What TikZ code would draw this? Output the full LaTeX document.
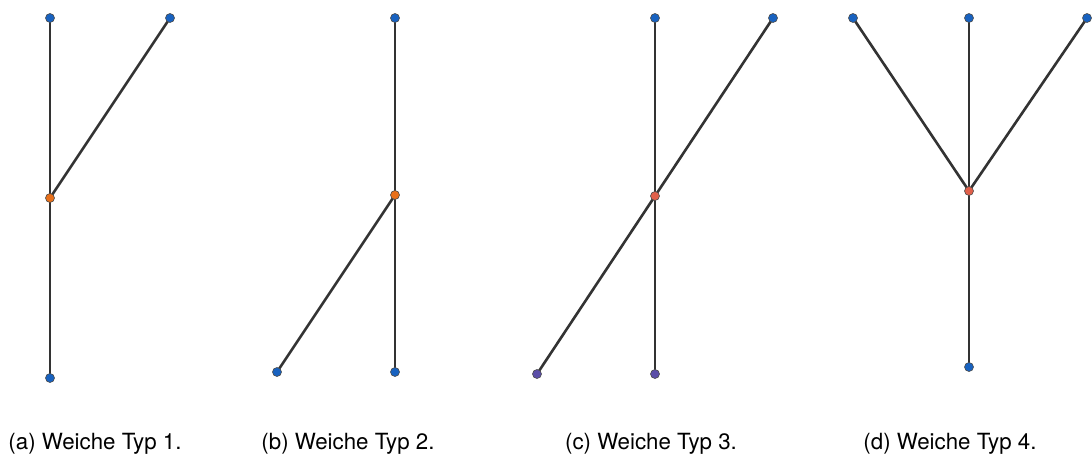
\documentclass[tikz,border=0pt]{standalone}
\usepackage{fontspec}
\setmainfont{TeX Gyre Heros}
\begin{document}
\begin{tikzpicture}[x=1pt,y=-1pt,
  dot/.style={circle,inner sep=0pt,minimum size=9pt,draw=black!70,line width=0.6pt},
  bdot/.style={dot,fill=blueN},
  odot/.style={dot,fill=orangeN},
  pdot/.style={dot,fill=purpleN},
  rdot/.style={dot,fill=redN},
  edge/.style={draw=lineC,line width=2.6pt},
  captxt/.style={font=\fontsize{22.3}{26}\selectfont,inner sep=0pt,anchor=base}]
\definecolor{blueN}{HTML}{1862C0}
\definecolor{orangeN}{HTML}{E8701A}
\definecolor{purpleN}{HTML}{5B4EA8}
\definecolor{redN}{HTML}{E0604A}
\definecolor{lineC}{HTML}{333333}
\useasboundingbox[fill=white] (0,0) rectangle (1092,455);
% (a)
\coordinate (a1) at (50,18);
\coordinate (a2) at (170,18);
\coordinate (am) at (50,198);
\coordinate (ab) at (50,378);
\draw[edge] (a1) -- (ab);
\draw[edge] (a2) -- (am);
\node[bdot] (na1) at (a1) {};
\node[bdot] (na2) at (a2) {};
\node[odot] (nam) at (am) {};
\node[bdot] (nab) at (ab) {};
% (b)
\coordinate (b1) at (395,18);
\coordinate (bm) at (395,195);
\coordinate (bl) at (277,372);
\coordinate (bb) at (395,372);
\draw[edge] (b1) -- (bb);
\draw[edge] (bl) -- (bm);
\node[bdot] (nb1) at (b1) {};
\node[odot] (nbm) at (bm) {};
\node[bdot] (nbl) at (bl) {};
\node[bdot] (nbb) at (bb) {};
% (c)
\coordinate (c1) at (655,18);
\coordinate (c2) at (773,18);
\coordinate (cm) at (655,196);
\coordinate (cl) at (537,374);
\coordinate (cb) at (655,374);
\draw[edge] (c1) -- (cb);
\draw[edge] (cl) -- (c2);
\node[bdot] (nc1) at (c1) {};
\node[bdot] (nc2) at (c2) {};
\node[rdot] (ncm) at (cm) {};
\node[pdot] (ncl) at (cl) {};
\node[pdot] (ncb) at (cb) {};
% (d)
\coordinate (d1) at (853,18);
\coordinate (d2) at (969,18);
\coordinate (d3) at (1087,18);
\coordinate (dm) at (969,191);
\coordinate (db) at (969,367);
\draw[edge] (d2) -- (db);
\draw[edge] (d1) -- (dm);
\draw[edge] (d3) -- (dm);
\node[bdot] (nd1) at (d1) {};
\node[bdot] (nd2) at (d2) {};
\node[bdot] (nd3) at (d3) {};
\node[rdot] (ndm) at (dm) {};
\node[bdot] (ndb) at (db) {};
% captions
\node[captxt] (capa) at (95,449) {(a) Weiche Typ 1.};
\node[captxt] (capb) at (348,449) {(b) Weiche Typ 2.};
\node[captxt] (capc) at (651,449) {(c) Weiche Typ 3.};
\node[captxt] (capd) at (950,449) {(d) Weiche Typ 4.};
\end{tikzpicture}
\end{document}
